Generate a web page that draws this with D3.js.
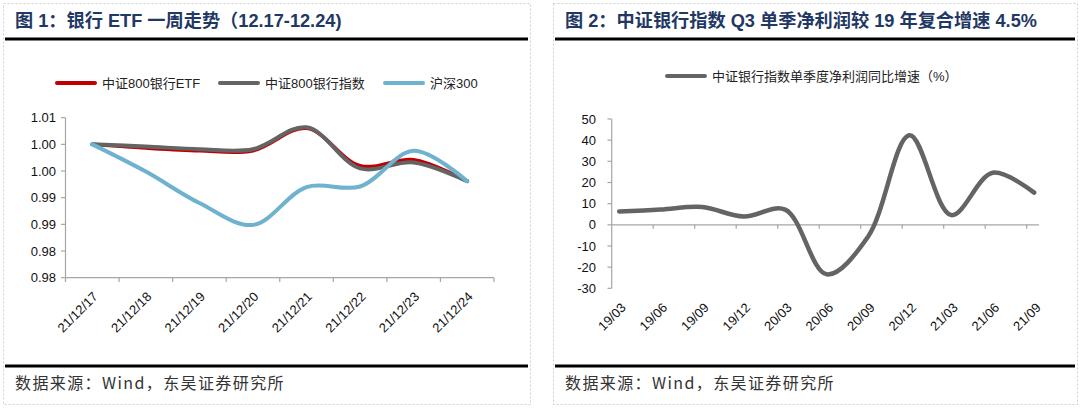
<!DOCTYPE html>
<html>
<head>
<meta charset="utf-8">
<script src="https://cdn.jsdelivr.net/npm/d3@7"></script>
<style>
  body { margin: 0; background: #fff; }
  svg { display: block; font-family: "Liberation Sans", Arial, sans-serif; }
  .title { font-family: "Liberation Sans", "Noto Sans CJK SC", sans-serif; font-weight: bold; font-size: 18.2px; fill: #1f3864; }
  .source { font-family: "Noto Sans CJK SC", sans-serif; font-size: 16px; fill: #333; letter-spacing: 1.4px; }
  .legend { font-family: "Liberation Sans", "Noto Sans CJK SC", sans-serif; font-size: 13px; fill: #222; }
  .tick-label { font-size: 13px; fill: #111; }
  .axis-line { stroke: #a6a6a6; stroke-width: 1.2; fill: none; }
</style>
</head>
<body>
<div class="chart"></div>
<script>

// chart 1 : bank ETF, one week
var days = ["21/12/17","21/12/18","21/12/19","21/12/20","21/12/21","21/12/22","21/12/23","21/12/24"];
var etf800Bank   = [1.0000, 0.9993, 0.9988, 0.9988, 1.0030, 0.9960, 0.9971, 0.9931];
var index800Bank = [1.0000, 0.9996, 0.9991, 0.9991, 1.0032, 0.9955, 0.9966, 0.9931];
var hs300        = [1.0000, 0.9949, 0.9890, 0.9849, 0.9920, 0.9921, 0.9988, 0.9931];
var leftTicks  = [0.975, 0.980, 0.985, 0.990, 0.995, 1.000, 1.005];
var leftLabels = ["0.98","0.98","0.99","0.99","1.00","1.00","1.01"];
var leftSeries = ["中证800银行ETF", "中证800银行指数", "沪深300"];

// chart 2 : quarterly net profit growth
var quarters = ["19/03","19/06","19/09","19/12","20/03","20/06","20/09","20/12","21/03","21/06","21/09"];
var profitGrowth = [6.3, 7.2, 8.4, 3.9, 7.2, -23.4, -5.5, 42.3, 4.6, 24.6, 15.2];
var rightTicks = [-30, -20, -10, 0, 10, 20, 30, 40, 50];
var rightSeries = "中证银行指数单季度净利润同比增速（%）";

var titles = ["图 1：银行 ETF 一周走势（12.17-12.24)", "图 2：中证银行指数 Q3 单季净利润较 19 年复合增速 4.5%"];
var sourceText = "数据来源：Wind，东吴证券研究所";

var w = 1080, h = 409;
var colors = ["#c00000", "#646464", "#6fb2cf"];

var svg = d3.select("div.chart")
            .append("svg")
            .attr("width", w)
            .attr("height", h);

//panel frames, title bars and footers
var panels = [{x0: 3, x1: 530}, {x0: 553, x1: 1077}];
panels.forEach(function(p, i){
    svg.append("rect")
        .attr("x", p.x0 + 0.5).attr("y", 3.5)
        .attr("width", p.x1 - p.x0).attr("height", 401)
        .attr("fill", "none")
        .attr("stroke", "#cfcfcf")
        .attr("stroke-dasharray", "2,2");
    svg.append("line")
        .attr("x1", p.x0 + 2).attr("x2", p.x1 - 2)
        .attr("y1", 39).attr("y2", 39)
        .attr("stroke", "#000").attr("stroke-width", 3);
    svg.append("line")
        .attr("x1", p.x0 + 2).attr("x2", p.x1 - 2)
        .attr("y1", 366).attr("y2", 366)
        .attr("stroke", "#000").attr("stroke-width", 3);
    svg.append("text")
        .attr("class", "title")
        .attr("x", p.x0 + 12).attr("y", 27)
        .text(titles[i]);
    svg.append("text")
        .attr("class", "source")
        .attr("x", p.x0 + 12).attr("y", 389)
        .text(sourceText);
});

// ---------- left chart ----------
var x1 = d3.scaleBand()
            .domain(days)
            .range([65.5, 494]);

var y1 = d3.scaleLinear()
            .domain([0.975, 1.005])
            .range([277.7, 117.7]);

var g1 = svg.append("g");

//y axis
g1.append("line").attr("class", "axis-line")
    .attr("x1", 65.5).attr("x2", 65.5)
    .attr("y1", y1.range()[1]).attr("y2", y1.range()[0]);
g1.selectAll(".ytick")
    .data(leftTicks)
    .enter()
    .append("line")
        .attr("class", "axis-line")
        .attr("x1", 61).attr("x2", 65.5)
        .attr("y1", d => y1(d)).attr("y2", d => y1(d));
g1.selectAll(".ylab")
    .data(leftTicks)
    .enter()
    .append("text")
        .attr("class", "tick-label")
        .attr("x", 56)
        .attr("y", d => y1(d))
        .attr("dy", "0.35em")
        .attr("text-anchor", "end")
        .text((d, i) => leftLabels[i]);

//x axis
g1.append("line").attr("class", "axis-line")
    .attr("x1", x1.range()[0]).attr("x2", x1.range()[1])
    .attr("y1", 277.7).attr("y2", 277.7);
g1.selectAll(".xtick")
    .data(days.map(d => x1(d)).concat([x1.range()[1]]))
    .enter()
    .append("line")
        .attr("class", "axis-line")
        .attr("x1", d => d).attr("x2", d => d)
        .attr("y1", 277.7).attr("y2", 282);
g1.selectAll(".xlab")
    .data(days)
    .enter()
    .append("text")
        .attr("class", "tick-label")
        .attr("text-anchor", "end")
        .attr("transform", d => `translate(${x1(d) + x1.bandwidth()/2} ${291}) rotate(-45)`)
        .attr("dy", "0.7em")
        .text(d => d);

var line1 = d3.line()
               .x((d, i) => x1(days[i]) + x1.bandwidth()/2)
               .y(d => y1(d))
               .curve(d3.curveCatmullRom.alpha(0.5));

[etf800Bank, index800Bank, hs300].forEach(function(s, i){
    g1.append("path")
        .attr("d", line1(s))
        .attr("fill", "none")
        .attr("stroke", colors[i])
        .attr("stroke-width", i == 0 ? 3.5 : 4)
        .attr("stroke-linecap", "round");
});

//legend
var legendX = [57, 220, 385];
leftSeries.forEach(function(name, i){
    g1.append("line")
        .attr("x1", legendX[i]).attr("x2", legendX[i] + 38)
        .attr("y1", 83).attr("y2", 83)
        .attr("stroke", colors[i]).attr("stroke-width", 4)
        .attr("stroke-linecap", "round");
    g1.append("text")
        .attr("class", "legend")
        .attr("x", legendX[i] + 45).attr("y", 83)
        .attr("dy", "0.35em")
        .text(name);
});

// ---------- right chart ----------
//index scale: ticks on whole numbers, points sit a little after them
var pointOffset = 0.18;
var x2 = d3.scaleLinear()
            .domain([0, 10])
            .range([611.7, 1026.7]);

var y2 = d3.scaleLinear()
            .domain([-30, 50])
            .range([288.3, 119]);

var g2 = svg.append("g");

g2.append("line").attr("class", "axis-line")
    .attr("x1", 611.7).attr("x2", 611.7)
    .attr("y1", y2(50)).attr("y2", y2(-30));
g2.selectAll(".ytick")
    .data(rightTicks)
    .enter()
    .append("line")
        .attr("class", "axis-line")
        .attr("x1", 607.5).attr("x2", 611.7)
        .attr("y1", d => y2(d)).attr("y2", d => y2(d));
g2.selectAll(".ylab")
    .data(rightTicks)
    .enter()
    .append("text")
        .attr("class", "tick-label")
        .attr("x", 596)
        .attr("y", d => y2(d))
        .attr("dy", "0.35em")
        .attr("text-anchor", "end")
        .text(d => d);

//x axis on zero
g2.append("line").attr("class", "axis-line")
    .attr("x1", 611.7).attr("x2", 1039)
    .attr("y1", y2(0)).attr("y2", y2(0));
g2.selectAll(".xtick")
    .data(d3.range(1, 11))
    .enter()
    .append("line")
        .attr("class", "axis-line")
        .attr("x1", d => x2(d)).attr("x2", d => x2(d))
        .attr("y1", y2(0)).attr("y2", y2(0) + 4);
g2.selectAll(".xlab")
    .data(quarters)
    .enter()
    .append("text")
        .attr("class", "tick-label")
        .attr("text-anchor", "end")
        .attr("transform", (d, i) => `translate(${x2(i + pointOffset) + 1} ${302}) rotate(-45)`)
        .attr("dy", "0.7em")
        .text(d => d);

var line2 = d3.line()
               .x((d, i) => x2(i + pointOffset))
               .y(d => y2(d))
               .curve(d3.curveCatmullRom.alpha(0.5));

g2.append("path")
    .attr("d", line2(profitGrowth))
    .attr("fill", "none")
    .attr("stroke", colors[1])
    .attr("stroke-width", 4.5)
    .attr("stroke-linecap", "round");

g2.append("line")
    .attr("x1", 667).attr("x2", 705)
    .attr("y1", 76).attr("y2", 76)
    .attr("stroke", colors[1]).attr("stroke-width", 4)
    .attr("stroke-linecap", "round");
g2.append("text")
    .attr("class", "legend")
    .attr("x", 712).attr("y", 76)
    .attr("dy", "0.35em")
    .text(rightSeries);

</script>
</body>
</html>
